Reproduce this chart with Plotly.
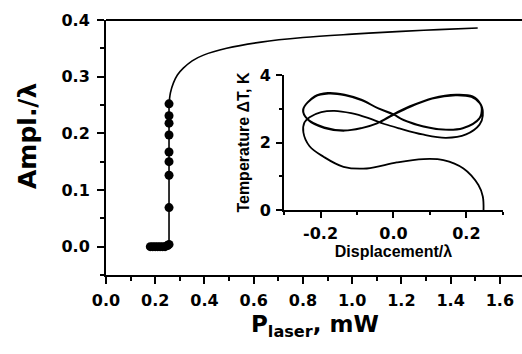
import plotly.graph_objects as go

# Main data: amplitude vs laser power (dots)
p_dots = [0.18, 0.19, 0.20, 0.21, 0.22, 0.23, 0.24, 0.25, 0.256,
          0.256, 0.256, 0.256, 0.256, 0.256, 0.256, 0.256, 0.256]
a_dots = [0.0, 0.0, 0.0, 0.0, 0.0, 0.0, 0.0, 0.002, 0.004,
          0.069, 0.126, 0.150, 0.167, 0.197, 0.218, 0.231, 0.252]

# Main data: continuation curve
p_curve = [0.256, 0.262, 0.274, 0.29, 0.314, 0.35, 0.396, 0.49, 0.63, 0.80, 1.0, 1.2, 1.35, 1.51]
a_curve = [0.252, 0.272, 0.289, 0.303, 0.315, 0.328, 0.338, 0.350, 0.361, 0.369, 0.375, 0.380, 0.383, 0.386]

# Inset: temperature vs displacement trajectory
disp = [0.247, 0.245, 0.233, 0.192, 0.137, 0.082, 0.009, -0.073, -0.137, -0.192, -0.230, -0.247, -0.244,
        -0.230, -0.198, -0.162, -0.116, -0.070, -0.025, 0.016,
        0.080, 0.144, 0.199, 0.236, 0.245,
        0.240, 0.217, 0.172, 0.108, 0.044, 0.0,
        -0.043, -0.088, -0.134, -0.189, -0.235, -0.248,
        -0.216, -0.180, -0.134, -0.088, -0.043, 0.0,
        0.026, 0.080, 0.135, 0.190, 0.236, 0.242,
        0.238, 0.214, 0.170, 0.106, 0.044, 0.0,
        -0.045, -0.090, -0.136, -0.190, -0.236, -0.247,
        -0.215, -0.178, -0.132, -0.086, -0.040, 0.0,
        0.028, 0.082, 0.137, 0.190, 0.235, 0.243, 0.236]
temp = [0.0, 0.40, 0.74, 1.23, 1.48, 1.51, 1.41, 1.23, 1.28, 1.58, 1.89, 2.30, 2.60,
        2.75, 2.90, 2.94, 2.87, 2.73, 2.55, 2.42,
        2.24, 2.14, 2.24, 2.53, 2.80,
        3.12, 3.37, 3.42, 3.32, 3.07, 2.84,
        2.58, 2.43, 2.35, 2.43, 2.68, 2.97,
        3.37, 3.47, 3.42, 3.27, 3.02, 2.84,
        2.68, 2.49, 2.39, 2.43, 2.73, 3.00,
        3.15, 3.35, 3.40, 3.30, 3.05, 2.82,
        2.57, 2.42, 2.36, 2.45, 2.70, 2.98,
        3.36, 3.45, 3.40, 3.25, 3.00, 2.83,
        2.66, 2.47, 2.38, 2.42, 2.70, 3.00, 3.18]

main_xticks = [0.0, 0.2, 0.4, 0.6, 0.8, 1.0, 1.2, 1.4, 1.6]
main_yticks = [0.0, 0.1, 0.2, 0.3, 0.4]
inset_xticks = [-0.2, 0.0, 0.2]
inset_xlabels = ["-0.2", "0.0", "0.2"]
inset_yticks = [0, 2, 4]

digit_font = dict(family="DejaVu Sans", size=16, color="black", weight="bold")
text_font = "Liberation Sans, Arial, sans-serif"

fig = go.Figure()
fig.add_trace(go.Scatter(x=p_curve, y=a_curve, mode="lines", line=dict(color="black", width=1.6, shape="spline"),
                         showlegend=False, cliponaxis=False))
fig.add_trace(go.Scatter(x=p_dots, y=a_dots, mode="lines+markers", line=dict(color="black", width=1.6),
                         marker=dict(color="black", size=9), showlegend=False))
fig.add_trace(go.Scatter(x=disp, y=temp, mode="lines", line=dict(color="black", width=1.8, shape="spline", smoothing=1.0),
                         xaxis="x2", yaxis="y2", showlegend=False))

axis_common = dict(showline=True, linecolor="black", linewidth=2, ticks="outside", tickcolor="black",
                   tickwidth=2, showgrid=False, zeroline=False, tickfont=digit_font, automargin=False)

fig.update_layout(
    width=522, height=354,
    margin=dict(l=106, r=0, t=20, b=79),
    paper_bgcolor="white", plot_bgcolor="white",
    xaxis=dict(range=[0, 1.69], tickvals=main_xticks, tickformat=".1f", ticklen=7,
               minor=dict(dtick=0.1, ticklen=4, tickwidth=1.5, tickcolor="black", ticks="outside", showgrid=False),
               ticklabelstandoff=3, **axis_common),
    yaxis=dict(range=[-0.05, 0.4], tickvals=main_yticks, tickformat=".1f", ticklen=7,
               minor=dict(dtick=0.05, ticklen=4, tickwidth=1.5, tickcolor="black", ticks="outside", showgrid=False),
               ticklabelstandoff=4, **axis_common),
    xaxis2=dict(domain=[0.428, 0.954], anchor="y2", range=[-0.3, 0.3], tickvals=inset_xticks, ticktext=inset_xlabels,
                ticklen=6, minor=dict(tickvals=[-0.3, -0.1, 0.1, 0.3], ticklen=3, tickwidth=1.5, tickcolor="black", ticks="outside"),
                title=dict(text="Displacement/λ", font=dict(family=text_font, size=16, color="black", weight="bold"), standoff=2),
                ticklabelstandoff=2, **axis_common),
    yaxis2=dict(domain=[0.255, 0.784], anchor="x2", range=[0, 4], tickvals=inset_yticks, ticklen=6,
                minor=dict(tickvals=[1, 3], ticklen=3, tickwidth=1.5, tickcolor="black", ticks="outside"),
                title=dict(text="Temperature ΔT, K", font=dict(family=text_font, size=16, color="black", weight="bold"), standoff=6),
                ticklabelstandoff=2, **axis_common),
    shapes=[dict(type="line", xref="paper", yref="paper", x0=0, x1=1, y0=1, y1=1, line=dict(color="black", width=2))],
    annotations=[
        dict(text="<b>Ampl./λ</b>", xref="paper", yref="paper", x=-0.19, y=0.545, textangle=-90, showarrow=False,
             xanchor="center", yanchor="middle", font=dict(family="DejaVu Sans", size=25, color="black")),
        dict(text="<b>P<sub>laser</sub>, mW</b>", xref="paper", yref="paper", x=0.502, y=-0.2, showarrow=False,
             xanchor="center", yanchor="middle", font=dict(family="DejaVu Sans", size=23, color="black")),
    ],
)

fig.write_html("out.html", config={"displayModeBar": False},
               post_script="document.body.style.margin='0px';document.body.style.overflow='hidden';")
